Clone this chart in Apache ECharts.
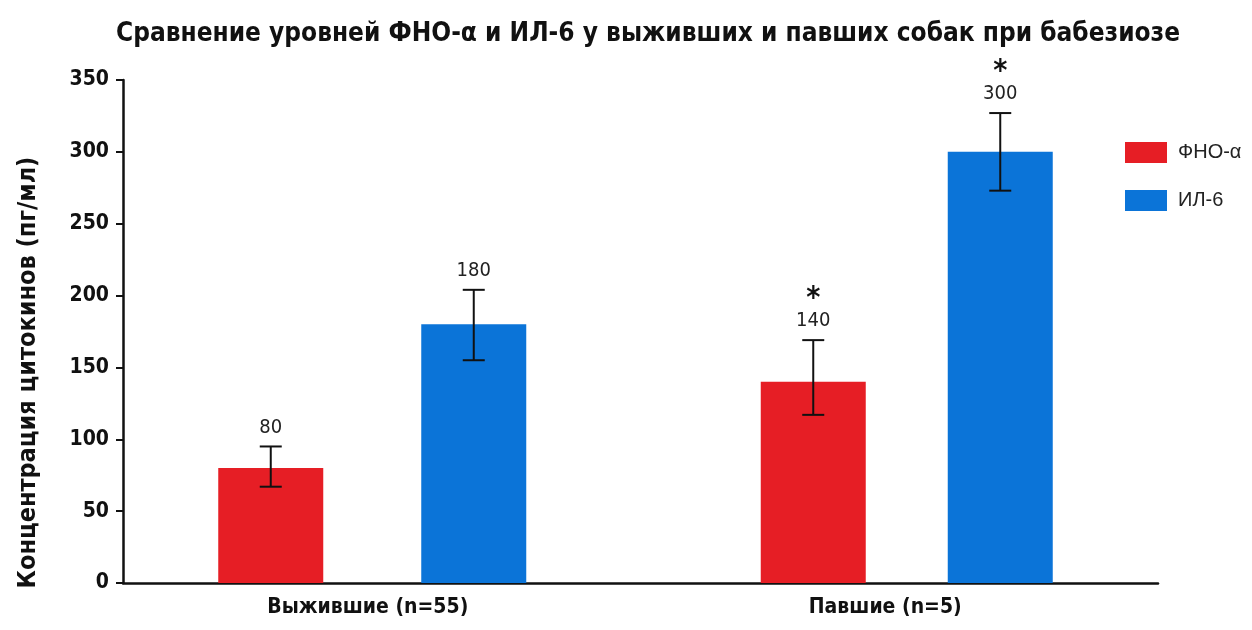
<!DOCTYPE html>
<html>
<head>
<meta charset="utf-8">
<script src="https://cdn.jsdelivr.net/npm/echarts@6/dist/echarts.min.js"></script>
<style>
  html, body { margin: 0; padding: 0; background: #fff; }
  #chart { width: 1252px; height: 630px; }
</style>
</head>
<body>
<div id="chart"></div>
<script>
const groups = ['Выжившие (n=55)', 'Павшие (n=5)'];
const seriesNames = ['ФНО-α', 'ИЛ-6'];
const tnfValues = [80, 140];
const il6Values = [180, 300];
// ошибки: нижняя и верхняя граница
const tnfLow = [67, 117];
const tnfHigh = [95, 169];
const il6Low = [155, 273];
const il6High = [204, 327];
const tnfStar = [false, true];
const il6Star = [false, true];
const yTicks = [0, 50, 100, 150, 200, 250, 300, 350];

// раскладка (пиксели от центра категории)
const tnfShift = [-111, -86];
const il6Shift = [92, 101];
const barW = 105;

const FONT = '"DejaVu Sans Condensed", "Liberation Sans", sans-serif';
const RED = '#e61e25';
const BLUE = '#0b74d8';

const barSeries = (name, color, values, low, high, star, shifts) => ({
    name: name,
    type: 'custom',
    itemStyle: { color: color },
    data: values.map((v, i) => [i, v, low[i], high[i]]),
    renderItem: (params, api) => {
        const i = api.value(0);
        const base = api.coord([i, 0]);
        const val = api.coord([i, api.value(1)]);
        const top = api.coord([i, api.value(3)]);
        const bot = api.coord([i, api.value(2)]);
        const x = base[0] + shifts[i];
        const cap = 11;
        const st = { stroke: '#111', lineWidth: 2 };
        const children = [
            { type: 'rect', shape: { x: x - barW / 2, y: val[1], width: barW, height: base[1] - val[1] },
                style: { fill: color } },
            { type: 'line', shape: { x1: x, y1: top[1], x2: x, y2: bot[1] }, style: st },
            { type: 'line', shape: { x1: x - cap, y1: top[1], x2: x + cap, y2: top[1] }, style: st },
            { type: 'line', shape: { x1: x - cap, y1: bot[1], x2: x + cap, y2: bot[1] }, style: st },
            { type: 'text', style: { x: x, y: top[1] - 19, text: String(values[i]), fill: '#222',
                font: '20px ' + FONT, align: 'center', verticalAlign: 'middle' } }
        ];
        if (star[i]) {
            children.push({ type: 'text', style: { x: x, y: top[1] - 41, text: '*', fill: '#111',
                font: 'bold 30px ' + FONT, align: 'center', verticalAlign: 'middle' } });
        }
        return { type: 'group', children: children };
    }
});

const chart = echarts.init(document.getElementById('chart'));
chart.setOption({
    animation: false,
    title: {
        text: 'Сравнение уровней ФНО-α и ИЛ-6 у выживших и павших собак при бабезиозе',
        left: 111,
        top: 16,
        textStyle: { fontFamily: FONT, fontSize: 26, fontWeight: 'bold', color: '#111' }
    },
    legend: {
        orient: 'vertical',
        left: 1120,
        top: 137,
        itemWidth: 42,
        itemHeight: 21,
        itemGap: 27,
        icon: 'rect',
        data: seriesNames,
        textStyle: { fontFamily: '"Liberation Sans", sans-serif', fontSize: 20, color: '#222', padding: [0, 0, 0, 6] }
    },
    grid: { left: 123, right: 94, top: 80, bottom: 47 },
    xAxis: {
        type: 'category',
        data: groups,
        axisLine: { lineStyle: { color: '#111', width: 2.5 } },
        axisTick: { show: false },
        axisLabel: {
            fontFamily: FONT, fontSize: 21, fontWeight: 'bold', color: '#111', margin: 14,
            padding: [0, 28, 0, 0]
        }
    },
    yAxis: {
        type: 'value',
        min: yTicks[0],
        max: yTicks[yTicks.length - 1],
        interval: 50,
        name: 'Концентрация цитокинов (пг/мл)',
        nameLocation: 'middle',
        nameGap: 82,
        nameTextStyle: { fontFamily: FONT, fontSize: 25, fontWeight: 'bold', color: '#111', padding: [0, 82, 0, 0] },
        splitLine: { show: false },
        axisLine: { show: true, lineStyle: { color: '#111', width: 2.5 } },
        axisTick: { show: true, length: 7, lineStyle: { color: '#111', width: 2 } },
        axisLabel: { fontFamily: FONT, fontSize: 21, fontWeight: 'bold', color: '#111', margin: 14 }
    },
    series: [
        barSeries(seriesNames[0], RED, tnfValues, tnfLow, tnfHigh, tnfStar, tnfShift),
        barSeries(seriesNames[1], BLUE, il6Values, il6Low, il6High, il6Star, il6Shift)
    ]
});
</script>
</body>
</html>
